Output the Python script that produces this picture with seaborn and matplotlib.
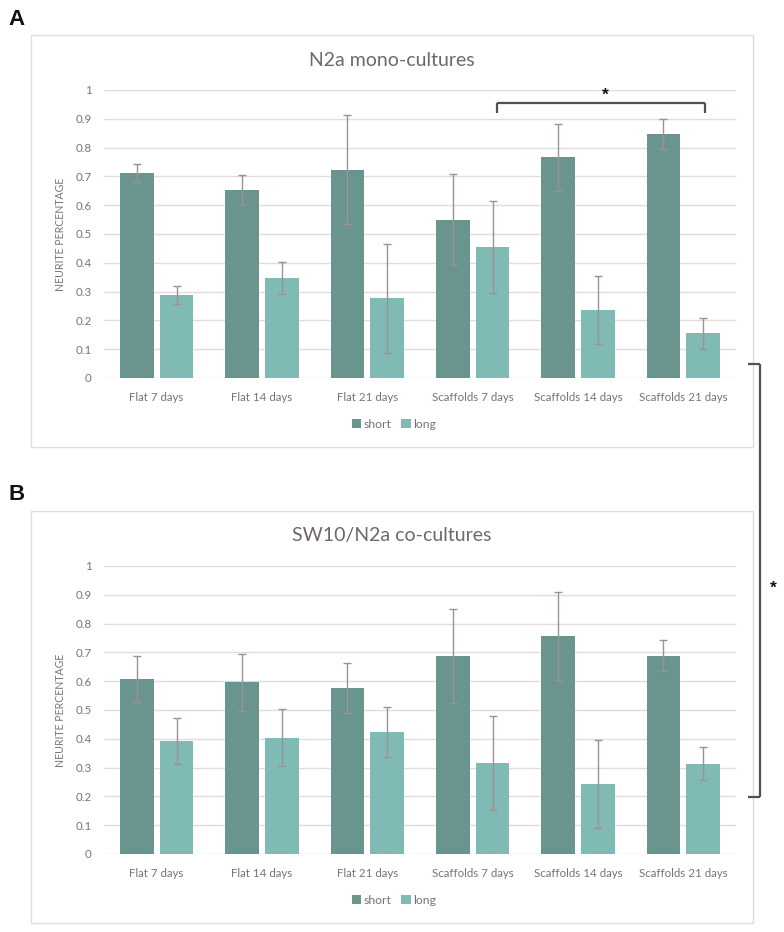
import numpy as np
import pandas as pd
import matplotlib
matplotlib.use("Agg")
import matplotlib.pyplot as plt
from matplotlib.patches import Rectangle, Patch
from matplotlib.lines import Line2D
import seaborn as sns

categories = ["Flat 7 days", "Flat 14 days", "Flat 21 days",
              "Scaffolds 7 days", "Scaffolds 14 days", "Scaffolds 21 days"]
series = ["short", "long"]
mono_short = [0.712, 0.652, 0.723, 0.549, 0.766, 0.847]
mono_short_err = [0.031, 0.053, 0.190, 0.158, 0.117, 0.053]
mono_long = [0.289, 0.347, 0.277, 0.454, 0.236, 0.155]
mono_long_err = [0.031, 0.055, 0.190, 0.160, 0.117, 0.055]
co_short = [0.607, 0.596, 0.577, 0.686, 0.757, 0.688]
co_short_err = [0.080, 0.099, 0.086, 0.163, 0.152, 0.054]
co_long = [0.393, 0.404, 0.424, 0.316, 0.243, 0.314]
co_long_err = [0.080, 0.099, 0.087, 0.162, 0.152, 0.056]
yticks = [0, 0.1, 0.2, 0.3, 0.4, 0.5, 0.6, 0.7, 0.8, 0.9, 1]
ytick_labels = ["0", "0.1", "0.2", "0.3", "0.4", "0.5", "0.6", "0.7", "0.8", "0.9", "1"]
titles = ["N2a mono-cultures", "SW10/N2a co-cultures"]

sns.set_style("white")
plt.rcParams["font.family"] = ["Lato", "DejaVu Sans"]

W, H = 784, 932
fig = plt.figure(figsize=(W / 100, H / 100), dpi=100)

COL_SHORT = "#6A958F"
COL_LONG = "#80BAB4"
TXT = "#7a7370"
GRID = "#e2dddc"
ERR = "#9b9391"


def fx(x):
    return x / W


def fy(y):
    return 1 - y / H


def hline(x0, x1, y, **kw):
    fig.add_artist(Line2D([fx(x0), fx(x1)], [fy(y), fy(y)], transform=fig.transFigure, **kw))


def vline(x, y0, y1, **kw):
    fig.add_artist(Line2D([fx(x), fx(x)], [fy(y0), fy(y1)], transform=fig.transFigure, **kw))


def panel(ax_top, box_top, box_bot, title, short, short_err, long_, long_err, letter, letter_y):
    # outer box
    fig.add_artist(Rectangle((fx(31), fy(box_bot)), fx(753) - fx(31), fy(box_top) - fy(box_bot),
                             transform=fig.transFigure, fill=False, edgecolor="#dedede", lw=1.0))
    ax_bot = ax_top + 288
    ax = fig.add_axes([fx(104), fy(ax_bot), fx(736) - fx(104), fy(ax_top) - fy(ax_bot)])
    ax.set_facecolor("none")
    df = pd.DataFrame({
        "category": categories * 2,
        "type": [series[0]] * len(categories) + [series[1]] * len(categories),
        "value": list(short) + list(long_),
    })
    sns.barplot(data=df, x="category", y="value", hue="type", order=categories,
                hue_order=series, palette=[COL_SHORT, COL_LONG], errorbar=None,
                width=0.756, gap=0.159, linewidth=0, saturation=1, ax=ax,
                legend=False, zorder=2)
    for cont, errs, vals in zip(ax.containers, [short_err, long_err], [short, long_]):
        xs = [p.get_x() + p.get_width() / 2 for p in cont.patches]
        ax.errorbar(xs, vals, yerr=errs, fmt="none", ecolor=ERR, elinewidth=1.0,
                    capsize=2.6, capthick=1.0, zorder=3)
    ax.set_ylim(0, 1)
    ax.set_xlim(-0.5, len(categories) - 0.5)
    ax.set_yticks(yticks)
    ax.set_yticklabels(ytick_labels)
    ax.grid(axis="y", color=GRID, lw=1.0, zorder=0)
    ax.set_axisbelow(True)
    for s in ax.spines.values():
        s.set_visible(False)
    ax.tick_params(axis="both", length=0, colors=TXT, labelsize=8.3)
    ax.tick_params(axis="y", pad=9)
    ax.tick_params(axis="x", pad=10)
    ax.set_xlabel("")
    ax.set_ylabel("NEURITE PERCENTAGE", fontsize=7.6, color=TXT, labelpad=7)
    fig.text(fx(392), fy(box_top + 25), title, ha="center", va="center",
             fontsize=14, color="#6f6866")
    handles = [Patch(facecolor=COL_SHORT, edgecolor="none"), Patch(facecolor=COL_LONG, edgecolor="none")]
    fig.legend(handles, series, loc="center", bbox_to_anchor=(fx(394), fy(box_bot - 23)),
               ncol=2, frameon=False, handlelength=0.75, handleheight=0.75, handletextpad=0.25,
               columnspacing=0.8, fontsize=8.8, labelcolor=TXT, borderaxespad=0, borderpad=0)
    fig.text(fx(8), fy(letter_y), letter, ha="left", va="baseline", fontsize=16,
             fontweight="bold", family="Liberation Sans", color="#111111")
    return ax


panel(90, 35, 447, titles[0], mono_short, mono_short_err, mono_long, mono_long_err, "A", 25)
panel(566, 511, 923, titles[1], co_short, co_short_err, co_long, co_long_err, "B", 500)

BR = dict(color="#555050", lw=1.6, solid_capstyle="butt")
# top significance bracket
hline(497, 705, 103, **BR)
vline(497, 103, 113, **BR)
vline(705, 103, 113, **BR)
fig.text(fx(605), fy(95), "*", ha="center", va="center", fontsize=12.5, color="#111111",
         family="Liberation Sans", fontweight="bold")
# right bracket
vline(760, 364, 797, **BR)
hline(748, 760, 364, **BR)
hline(748, 760, 797, **BR)
fig.text(fx(773), fy(588), "*", ha="center", va="center", fontsize=12.5, color="#111111",
         family="Liberation Sans", fontweight="bold")

fig.savefig("out.png", dpi=100, facecolor="white")
